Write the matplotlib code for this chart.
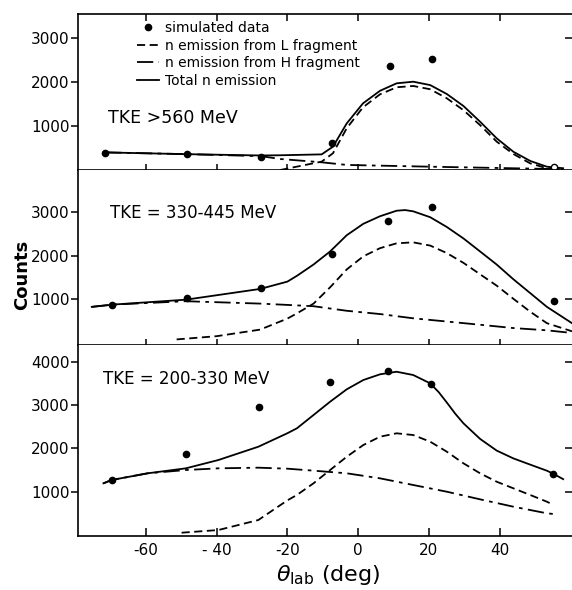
import matplotlib
matplotlib.use("Agg")
import matplotlib.pyplot as plt
from matplotlib.lines import Line2D

# ---------------- data ----------------
# Panel 1: TKE > 560 MeV
p1_pts_x = [-71.5, -48.5, -27.5, -7.5, 9, 21]
p1_pts_y = [395, 357, 302, 620, 2370, 2516]
p1_open_x = [55.4]
p1_open_y = [75]
p1_tot_x = [-71.5, -48.5, -27.5, -22, -10.3, -7.1, -3.2, 1.4, 6.2, 10.9, 15.6, 20.4, 25.1, 29.8, 34.5, 39.2, 43.9, 48.7, 53.4, 58]
p1_tot_y = [400, 360, 330, 335, 355, 530, 1060, 1515, 1800, 1970, 2007, 1930, 1727, 1455, 1098, 720, 416, 205, 75, 40]
p1_L_x = [-22, -10.3, -7.1, -3.2, 1.4, 6.2, 10.9, 15.6, 20.4, 25.1, 29.8, 34.5, 39.2, 43.9, 48.7, 53.4, 58]
p1_L_y = [0, 190, 380, 950, 1425, 1720, 1880, 1910, 1835, 1630, 1360, 1020, 645, 365, 150, 40, 20]
p1_H_x = [-71.5, -48.5, -27.5, -22, -10.3, -3.2, 20.4, 53.4, 58]
p1_H_y = [400, 360, 315, 250, 175, 115, 75, 25, 20]

# Panel 2: TKE = 330-445 MeV
p2_pts_x = [-69.5, -48.5, -27.5, -7.5, 8.5, 21, 55.5]
p2_pts_y = [872, 1022, 1247, 2040, 2804, 3119, 955]
p2_tot_x = [-75.3, -69.4, -48.7, -27.7, -20, -17.3, -12.6, -7.9, -3.2, 1.5, 6.2, 10.9, 13.3, 15.6, 20.4, 25.1, 29.8, 34.5, 39.2, 43.9, 48.7, 53.4, 60.5]
p2_tot_y = [820, 872, 985, 1232, 1400, 1533, 1793, 2094, 2467, 2730, 2903, 3030, 3045, 3016, 2881, 2656, 2393, 2094, 1793, 1456, 1135, 820, 445]
p2_L_x = [-51.3, -40, -27.7, -20, -17.3, -12.6, -7.9, -3.2, 1.5, 6.2, 10.9, 15.6, 20.4, 25.1, 29.8, 34.5, 39.2, 43.9, 48.7, 53.4, 60.5]
p2_L_y = [72, 146, 297, 550, 670, 894, 1270, 1681, 1982, 2169, 2281, 2303, 2229, 2056, 1832, 1569, 1308, 1007, 708, 445, 258]
p2_H_x = [-75.3, -69.4, -48.7, -27.7, -20, -12.6, -3.2, 6.2, 15.6, 25.1, 34.5, 43.9, 53.4, 60.5]
p2_H_y = [820, 872, 950, 895, 865, 835, 730, 655, 557, 483, 409, 333, 281, 220]

# Panel 3: TKE = 200-330 MeV
p3_pts_x = [-69.7, -48.7, -28, -8, 8.6, 20.6, 55.1]
p3_pts_y = [1270, 1864, 2963, 3540, 3788, 3487, 1409]
p3_tot_x = [-72, -69.7, -59.5, -48.7, -39.5, -28.2, -20, -17.3, -12.6, -7.9, -3.2, 1.5, 6.2, 10.9, 15.6, 20.4, 22.8, 25.1, 27.5, 29.8, 34.5, 39.2, 43.9, 48.7, 53.4, 55.1, 58]
p3_tot_y = [1194, 1270, 1425, 1540, 1732, 2039, 2350, 2464, 2771, 3079, 3365, 3580, 3711, 3771, 3695, 3503, 3300, 3060, 2800, 2580, 2220, 1950, 1770, 1625, 1485, 1420, 1290]
p3_L_x = [-49.9, -39.5, -28.2, -20, -17.3, -12.6, -7.9, -3.2, 1.5, 6.2, 10.9, 15.6, 20.4, 25.1, 29.8, 34.5, 39.2, 43.9, 48.7, 53.4, 55.3]
p3_L_y = [53, 115, 346, 800, 924, 1194, 1501, 1808, 2079, 2270, 2349, 2309, 2155, 1924, 1656, 1425, 1231, 1079, 924, 769, 693]
p3_H_x = [-72, -69.7, -59.5, -48.7, -39.5, -28.2, -20, -12.6, -3.2, 6.2, 15.6, 25.1, 34.5, 43.9, 53.4, 55.3]
p3_H_y = [1194, 1270, 1425, 1501, 1540, 1555, 1532, 1486, 1425, 1309, 1155, 1000, 824, 654, 501, 485]

panel_labels = ["TKE >560 MeV", "TKE = 330-445 MeV", "TKE = 200-330 MeV"]
x_ticks = [-60, -40, -20, 0, 20, 40]
x_ticklabels = ["-60", "- 40", "-20", "0", "20", "40"]
y_ticks_top = [1000, 2000, 3000]
y_ticks_mid = [1000, 2000, 3000]
y_ticks_bot = [1000, 2000, 3000, 4000]

legend_labels = ["simulated data", "n emission from L fragment",
                 "n emission from H fragment", "Total n emission"]

# ---------------- figure ----------------
plt.rcParams['font.family'] = ['DejaVu Sans']
W, H = 572, 590
fig = plt.figure(figsize=(W / 100, H / 100), dpi=100)

def fx(px):
    return px / W

def fy(py):
    return 1 - py / H

left_px, right_px = 78, 572
panels_px = [(13.5, 170), (170, 344.5), (344.5, 536)]
ylims = [(0, 3557), (-45, 3966), (-23, 4400)]
xlim = (-79.2, 60.5)

DASH = (0, (4.5, 2.5))
DASHDOT = (0, (9, 3, 2, 3))
LW = 1.3

data = [
    (p1_pts_x, p1_pts_y, p1_tot_x, p1_tot_y, p1_L_x, p1_L_y, p1_H_x, p1_H_y, y_ticks_top),
    (p2_pts_x, p2_pts_y, p2_tot_x, p2_tot_y, p2_L_x, p2_L_y, p2_H_x, p2_H_y, y_ticks_mid),
    (p3_pts_x, p3_pts_y, p3_tot_x, p3_tot_y, p3_L_x, p3_L_y, p3_H_x, p3_H_y, y_ticks_bot),
]
label_pos = [(108, 118), (110, 213), (103, 379)]
label_sizes = [12.5, 12.0, 12.0]

axes = []
for i, ((top, bot), yl, d) in enumerate(zip(panels_px, ylims, data)):
    ax = fig.add_axes([fx(left_px), fy(bot), fx(right_px - left_px), (bot - top) / H])
    axes.append(ax)
    px_, py_, tx, ty, lx, ly, hx, hy, yt = d
    ax.plot(hx, hy, color='black', lw=LW, linestyle=DASHDOT)
    ax.plot(lx, ly, color='black', lw=LW, linestyle=DASH)
    ax.plot(tx, ty, color='black', lw=LW, linestyle='-')
    ax.plot(px_, py_, 'o', color='black', markersize=4.5, linestyle='none')
    if i == 0:
        ax.plot(p1_open_x, p1_open_y, 'o', markerfacecolor='white',
                markeredgecolor='black', markersize=4.5, markeredgewidth=1.0,
                linestyle='none')
    ax.set_xlim(*xlim)
    ax.set_ylim(*yl)
    ax.set_yticks(yt)
    ax.set_yticklabels([str(v) for v in yt], fontsize=11)
    ax.set_xticks(x_ticks)
    for s in ['left', 'top', 'bottom']:
        ax.spines[s].set_linewidth(1.2)
    ax.spines['right'].set_visible(False)
    ax.tick_params(axis='y', which='both', left=True, right=True,
                   direction='out', length=5, width=1.1, pad=1)
    for t in ax.yaxis.get_major_ticks():
        t.tick1line.set_marker(matplotlib.lines.TICKLEFT)
        t.tick1line.set_markersize(5)
        t.tick2line.set_marker(matplotlib.lines.TICKLEFT)
        t.tick2line.set_markersize(5)
    if i == 0:
        ax.spines['top'].set_visible(True)
        ax.tick_params(axis='x', top=True, bottom=True, direction='inout',
                       length=9, width=1.1, labelbottom=False)
        for t in ax.xaxis.get_major_ticks():
            t.tick2line.set_marker(matplotlib.lines.TICKDOWN)
            t.tick2line.set_markersize(5)
    elif i == 1:
        ax.spines['top'].set_visible(False)
        ax.tick_params(axis='x', top=False, bottom=True, direction='inout',
                       length=9, width=1.1, labelbottom=False)
    else:
        ax.spines['top'].set_visible(False)
        ax.tick_params(axis='x', top=False, bottom=True, direction='in',
                       length=6, width=1.1, labelsize=11, pad=5)
        ax.set_xticklabels(x_ticklabels)
    lxp, lyp = label_pos[i]
    fig.text(fx(lxp), fy(lyp), panel_labels[i], fontsize=label_sizes[i],
             ha='left', va='center')

# legend in top panel
handles = [
    Line2D([], [], color='black', marker='o', markersize=4.5, linestyle='none'),
    Line2D([], [], color='black', lw=LW, linestyle=DASH),
    Line2D([], [], color='black', lw=LW, linestyle=DASHDOT),
    Line2D([], [], color='black', lw=LW, linestyle='-'),
]
fig.legend(handles, legend_labels, loc='upper left',
           bbox_to_anchor=(fx(137), fy(21)), frameon=False, fontsize=10,
           handlelength=1.6, handletextpad=0.45, labelspacing=0.26,
           borderpad=0, borderaxespad=0)

fig.text(fx(22), fy(275), "Counts", rotation=90, fontsize=13,
         fontweight='bold', ha='center', va='center')
fig.text(fx(328), fy(575), r"$\theta_{\rm lab}$ (deg)", fontsize=16,
         ha='center', va='center')

fig.savefig("out.png", dpi=100)
